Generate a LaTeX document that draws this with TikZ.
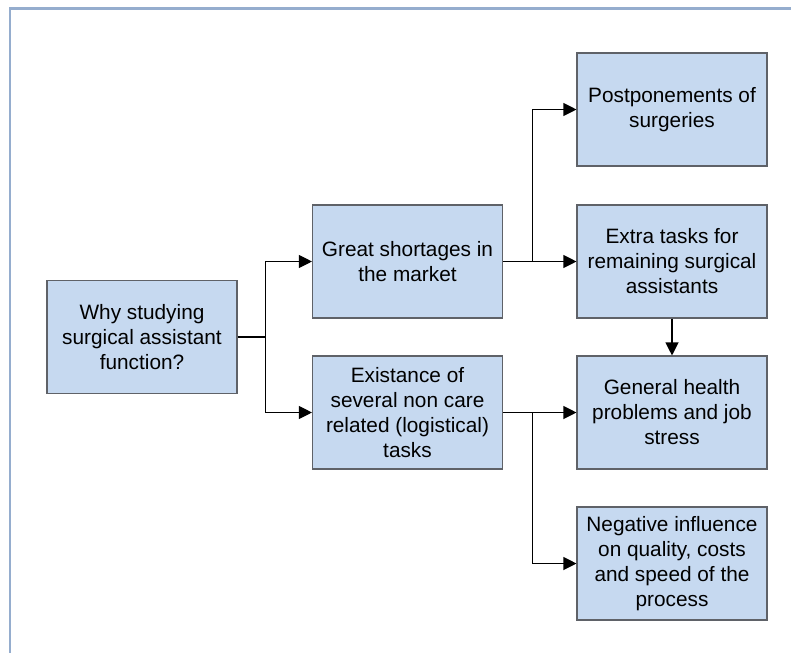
\documentclass[tikz,border=0pt]{standalone}
\usepackage{fontspec}
\setmainfont{Liberation Sans}
\usetikzlibrary{arrows.meta}
\definecolor{boxfill}{HTML}{C6D9F0}
\definecolor{boxline}{HTML}{5F6268}
\definecolor{framecol}{HTML}{95ADCE}
\tikzset{
  box/.style={draw=boxline, line width=1.1pt, fill=boxfill, minimum width=190pt,
    minimum height=113pt, align=center, inner sep=2pt,
    font=\fontsize{20.8pt}{25pt}\selectfont},
  conn/.style={draw=black, line width=1.1pt, -{Triangle[length=13pt,width=13pt]}},
  plain/.style={draw=black, line width=1.1pt}
}
\begin{document}
\begin{tikzpicture}[x=1pt,y=-1pt]
  \useasboundingbox (0,0) rectangle (791,653);
  % page frame
  \draw[framecol, line width=2.2pt] (791,8.5) -- (10,8.5) -- (10,653);

  % boxes
  \node[box] (root) at (142,337) {Why studying\\surgical assistant\\function?};
  \node[box] (short) at (407.5,261.5) {Great shortages in\\the market};
  \node[box] (exist) at (407.5,412.5) {Existance of\\several non care\\related (logistical)\\tasks};
  \node[box] (post) at (672,109.5) {Postponements of\\surgeries};
  \node[box] (extra) at (672,261.5) {Extra tasks for\\remaining surgical\\assistants};
  \node[box] (health) at (672,412.5) {General health\\problems and job\\stress};
  \node[box] (neg) at (672,563.5) {Negative influence\\on quality, costs\\and speed of the\\process};

  % connectors
  \coordinate (rootfork) at ([xshift=28pt]root.east);
  \draw[plain] (root.east) -- (rootfork);
  \draw[conn] (rootfork) |- (short.west);
  \draw[conn] (rootfork) |- (exist.west);

  \coordinate (shortfork) at ([xshift=29pt]short.east);
  \draw[conn] (short.east) -- (extra.west);
  \draw[conn] (shortfork) |- (post.west);

  \coordinate (existfork) at ([xshift=29pt]exist.east);
  \draw[conn] (exist.east) -- (health.west);
  \draw[conn] (existfork) |- (neg.west);

  \draw[conn] (extra.south) -- (health.north);
\end{tikzpicture}
\end{document}
